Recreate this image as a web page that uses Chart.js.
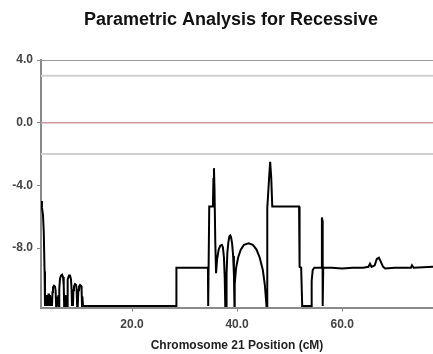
<!DOCTYPE html>
<html>
<head>
<meta charset="utf-8">
<script src="https://cdn.jsdelivr.net/npm/chart.js@4/dist/chart.umd.min.js"></script>
<style>
html,body{margin:0;padding:0;background:#fff;}
#wrap{width:433px;height:354px;}
</style>
</head>
<body>
<div id="wrap"><canvas id="c"></canvas></div>
<script>
const chartTitle = 'Parametric Analysis for Recessive';
const xAxisTitle = 'Chromosome 21 Position (cM)';
const xRange = [2.67, 77.3];
const yRange = [-11.8, 4.0];
const xTicks = [20, 40, 60];
const yTicks = [-8, -4, 0, 4];
const refLevels = [4.0, 3.0, 0.0, -2.0];

const positionsCM = [
  2.67, 2.85, 3.05, 3.2, 3.35,
  3.43, 3.52, 3.62, 3.71, 3.81, 3.90, 4.00, 4.10, 4.19, 4.29,
  4.38, 4.48, 4.57, 4.67, 4.76, 4.86, 4.95, 5.14, 5.33, 5.45,
  5.55, 5.62, 5.71, 5.81, 5.90, 6.00, 6.10, 6.15, 6.29, 6.48,
  6.67, 6.86, 7.00, 7.08, 7.15, 7.24, 7.34, 7.43, 7.52, 7.62,
  7.68, 7.81, 8.00, 8.19, 8.38, 8.50, 8.57, 8.66, 8.76, 8.83,
  8.95, 9.14, 9.33, 9.45, 9.55, 9.62, 9.71, 9.78, 9.90, 10.10,
  10.29, 10.40, 10.48, 10.55, 10.67,
  28.4, 28.45, 34.45, 34.5, 34.65, 34.7,
  35.4, 35.5, 35.6, 35.7, 35.85, 36.0, 36.2, 36.5, 36.8, 37.1,
  37.3, 37.5, 37.65, 37.75, 37.9, 38.0, 38.15, 38.35, 38.55, 38.7,
  38.85, 39.05, 39.25, 39.4, 39.5, 39.55, 39.8, 40.2, 40.7, 41.3,
  42.2, 43.0, 43.7, 44.3, 44.9, 45.3, 45.6, 45.7, 45.75, 46.1,
  46.3, 46.5, 46.7, 51.8, 51.9, 52.2, 52.4, 54.1, 54.2, 54.4,
  54.7, 56.1, 56.15, 56.25, 56.3, 56.4, 58, 60, 62, 64,
  65, 65.3, 65.6, 66.2, 66.6, 67.0, 67.4, 67.8, 68.2, 70,
  73.1, 73.3, 73.6, 77.3
];
const lodScores = [
  -5.0, -5.4, -5.9, -7.0, -9.5,
  -11.7, -11.1, -11.7, -11.0, -11.7, -11.1, -11.7, -10.9, -11.6, -11.0,
  -11.7, -11.1, -11.7, -11.2, -11.7, -10.8, -10.5, -10.4, -10.45, -10.7,
  -11.7, -11.2, -11.7, -11.1, -11.7, -11.0, -11.7, -10.6, -9.95, -9.75,
  -9.7, -9.85, -10.4, -11.7, -11.1, -11.7, -11.0, -11.7, -11.2, -11.7,
  -10.6, -10.0, -9.75, -9.75, -10.0, -10.7, -11.7, -11.0, -11.7, -10.7,
  -10.45, -10.3, -10.35, -10.6, -11.7, -11.0, -11.7, -10.7, -10.45, -10.35,
  -10.4, -10.7, -11.7, -11.1, -11.7,
  -11.7, -9.25, -9.25, -11.7, -11.7, -5.35,
  -5.35, -3.6, -2.9, -4.2, -7.6, -9.6, -8.7, -8.1, -7.85, -7.8,
  -7.95, -8.6, -9.9, -11.7, -11.7, -9.6, -8.3, -7.6, -7.25, -7.2,
  -7.3, -7.7, -8.5, -9.7, -11.7, -10.3, -9.3, -8.6, -8.1, -7.8,
  -7.7, -7.8, -8.1, -8.6, -9.4, -10.4, -11.7, -11.7, -5.45, -3.5,
  -2.5, -3.5, -5.35, -5.35, -9.2, -9.25, -11.7, -11.7, -10.1, -9.4,
  -9.25, -9.25, -6.05, -6.25, -11.7, -9.25, -9.25, -9.3, -9.25, -9.25,
  -9.2, -9.0, -9.2, -9.1, -8.7, -8.62, -8.9, -9.2, -9.3, -9.25,
  -9.25, -9.1, -9.25, -9.2
];

const refStyles = [
  {color: '#999999', width: 2},
  {color: '#d0d0d0', width: 2},
  {color: '#d09aa2', width: 1.5},
  {color: '#d0d0d0', width: 2}
];

const datasets = [{
  data: positionsCM.map((x, i) => ({x: x, y: lodScores[i]})),
  borderColor: '#000',
  borderWidth: 2,
  pointRadius: 0,
  tension: 0,
  fill: false
}];
refLevels.forEach((lv, i) => {
  datasets.push({
    data: [{x: xRange[0], y: lv}, {x: xRange[1], y: lv}],
    borderColor: refStyles[i].color,
    borderWidth: refStyles[i].width,
    pointRadius: 0,
    fill: false
  });
});

const font = 'Liberation Sans, Arial, sans-serif';

const titleShift = {
  id: 'titleShift',
  afterLayout(chart) {
    if (chart.titleBlock) { chart.titleBlock.left -= 12; }
  }
};

new Chart(document.getElementById('c'), {
  type: 'line',
  data: {datasets: datasets},
  plugins: [titleShift],
  options: {
    responsive: true,
    maintainAspectRatio: false,
    animation: false,
    events: [],
    layout: {padding: {top: 0, right: 0, bottom: 0, left: 0}},
    plugins: {
      legend: {display: false},
      tooltip: {enabled: false},
      title: {
        display: true,
        text: chartTitle,
        fullSize: false,
        color: '#111',
        font: {family: font, size: 18, weight: 'bold'},
        padding: {top: 9, bottom: 29.4}
      }
    },
    scales: {
      x: {
        type: 'linear',
        min: xRange[0],
        max: xRange[1],
        afterBuildTicks: s => { s.ticks = xTicks.map(v => ({value: v})); },
        ticks: {
          color: '#444',
          font: {family: font, size: 12, weight: 'bold'},
          padding: 6,
          maxRotation: 0,
          callback: v => Number(v).toFixed(1)
        },
        grid: {drawOnChartArea: false, drawTicks: true, tickLength: 4, color: '#888', lineWidth: 1},
        border: {display: true, color: '#8a8a8a', width: 2},
        title: {
          display: true,
          text: xAxisTitle,
          color: '#222',
          font: {family: font, size: 12, weight: 'bold'},
          padding: {top: 0, bottom: 1.6}
        }
      },
      y: {
        type: 'linear',
        min: yRange[0],
        max: yRange[1],
        afterBuildTicks: s => { s.ticks = yTicks.map(v => ({value: v})); },
        afterFit: s => { s.width = 41; },
        ticks: {
          color: '#444',
          font: {family: font, size: 12, weight: 'bold'},
          padding: 4,
          callback: v => Number(v).toFixed(1)
        },
        grid: {drawOnChartArea: false, drawTicks: true, tickLength: 4, color: '#888', lineWidth: 1},
        border: {display: true, color: '#8a8a8a', width: 2}
      }
    }
  }
});
</script>
</body>
</html>
